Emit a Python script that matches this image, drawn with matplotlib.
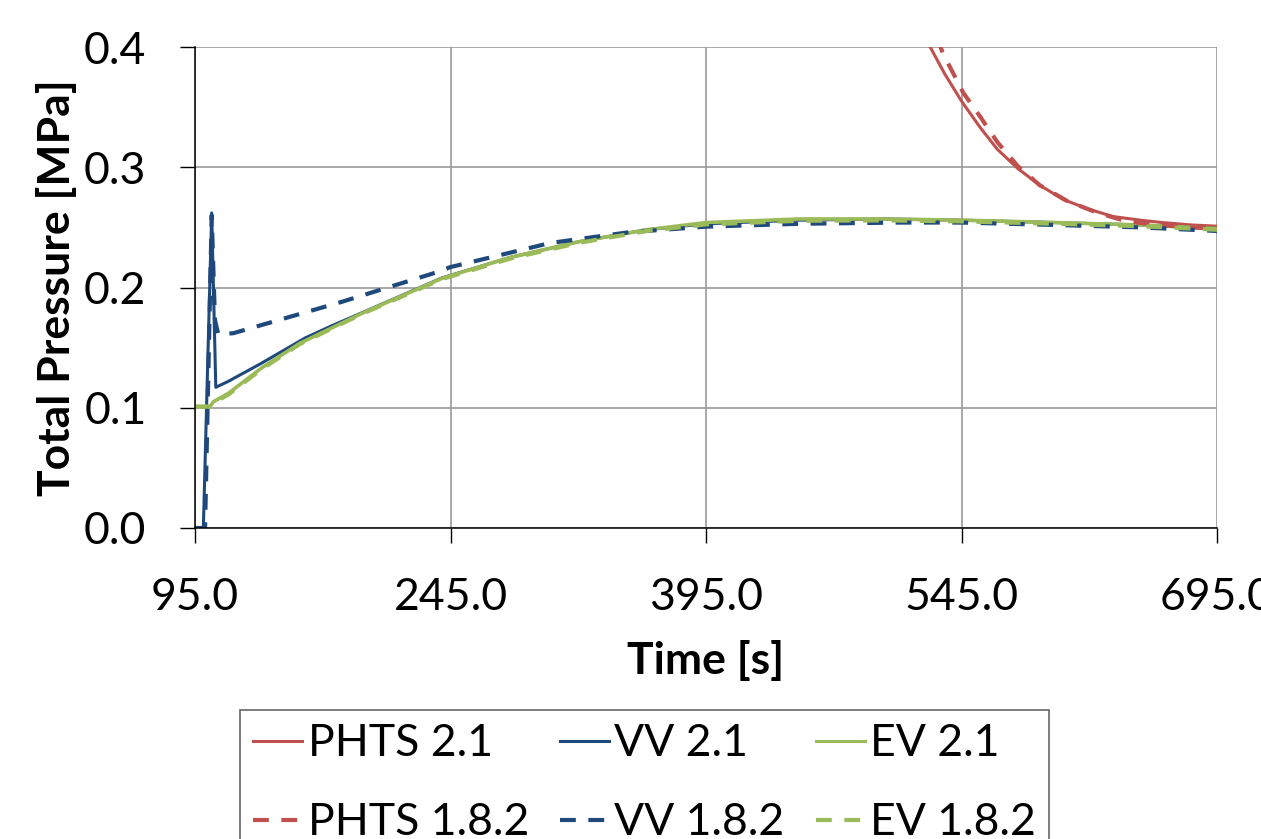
import matplotlib
matplotlib.use("Agg")
import matplotlib.pyplot as plt
from matplotlib.lines import Line2D

plt.rcParams['font.family'] = ['Lato', 'DejaVu Sans']

# time [s] and total pressure [MPa]
phts_21_t = [515, 526.6, 535, 545, 556, 566, 578, 591, 605, 620, 634, 650, 663, 680, 695]
phts_21_p = [0.432, 0.400, 0.378, 0.355, 0.333, 0.315, 0.299, 0.285, 0.273, 0.265, 0.259, 0.256, 0.254, 0.252, 0.251]

phts_182_t = [525, 534, 546, 556, 566, 578, 591, 607, 625, 642, 660, 680, 695]
phts_182_p = [0.430, 0.395, 0.362, 0.342, 0.321, 0.301, 0.285, 0.272, 0.262, 0.255, 0.252, 0.250, 0.249]

vv_21_t = [95, 99.9, 104.8, 107.2, 114.6, 134, 159.6, 175, 193, 240, 280, 320, 360, 395, 450, 500, 545, 600, 650, 695]
vv_21_p = [0.0, 0.0, 0.262, 0.117, 0.122, 0.137, 0.158, 0.168, 0.179, 0.208, 0.225, 0.238, 0.248, 0.253, 0.256, 0.257, 0.256, 0.254, 0.252, 0.249]

vv_182_t = [95, 100.9, 104.8, 106.7, 108.7, 117.5, 181, 237.7, 245, 303.5, 350, 395, 450, 509, 545, 600, 650, 695]
vv_182_p = [0.0, 0.0, 0.260, 0.173, 0.161, 0.162, 0.188, 0.213, 0.217, 0.237, 0.246, 0.2506, 0.253, 0.254, 0.254, 0.252, 0.250, 0.247]

ev_21_t = [95, 103.8, 105.8, 114.6, 134, 156.6, 193, 240, 280, 320, 360, 395, 450, 500, 545, 600, 650, 695]
ev_21_p = [0.101, 0.101, 0.105, 0.112, 0.133, 0.1536, 0.1785, 0.2076, 0.225, 0.238, 0.248, 0.254, 0.257, 0.257, 0.256, 0.254, 0.252, 0.249]

ev_182_t = [95, 103.8, 105.8, 114.6, 134, 156.6, 193, 240, 280, 320, 360, 395, 450, 500, 545, 600, 650, 695]
ev_182_p = [0.101, 0.101, 0.104, 0.111, 0.132, 0.1530, 0.178, 0.207, 0.224, 0.237, 0.247, 0.2525, 0.2555, 0.2558, 0.255, 0.253, 0.251, 0.248]

x_ticks = [95, 245, 395, 545, 695]
y_ticks = [0.0, 0.1, 0.2, 0.3, 0.4]

red = '#C0504D'
blue = '#1F497D'
green = '#9BBB59'
dash = (3.8, 3)

fig = plt.figure(figsize=(12.61, 8.39), dpi=100)
ax = fig.add_axes([195 / 1261, 1 - 528 / 839, 1022 / 1261, 481 / 839])

ax.plot(phts_21_t, phts_21_p, color=red, lw=2.2)
ax.plot(vv_21_t, vv_21_p, color=blue, lw=2.2)
ax.plot(ev_21_t, ev_21_p, color=green, lw=2.6)
ax.plot(phts_182_t, phts_182_p, color=red, lw=3, dashes=dash)
ax.plot(vv_182_t, vv_182_p, color=blue, lw=3, dashes=dash)
ax.plot(ev_182_t, ev_182_p, color=green, lw=3, dashes=dash)

ax.set_xlim(95, 695)
ax.set_ylim(0, 0.4)
ax.set_xticks(x_ticks)
ax.set_yticks(y_ticks)
ax.set_xticklabels(['%.1f' % v for v in x_ticks])
ax.set_yticklabels(['%.1f' % v for v in y_ticks])
ax.tick_params(axis='both', direction='out', length=11, width=1, labelsize=32, colors='black')
ax.tick_params(axis='y', pad=24)
ax.tick_params(axis='x', pad=24)

ax.grid(True, color='#999999', lw=1.2)
ax.set_axisbelow(True)
for s in ['top', 'right']:
    ax.spines[s].set_visible(False)
for s in ['left', 'bottom']:
    ax.spines[s].set_color('black')
    ax.spines[s].set_linewidth(1.1)

ax.set_xlabel('Time [s]', fontsize=32, fontweight='bold')
ax.set_ylabel('Total Pressure [MPa]', fontsize=32, fontweight='bold')
ax.xaxis.set_label_coords(0.5, -0.232)
ax.yaxis.set_label_coords(-0.115, 0.5)

# legend, filled column by column -> rows: 2.1 on top, 1.8.2 below
handles = [
    Line2D([], [], color=red, lw=2.2), Line2D([], [], color=red, lw=3, dashes=dash),
    Line2D([], [], color=blue, lw=2.2), Line2D([], [], color=blue, lw=3, dashes=dash),
    Line2D([], [], color=green, lw=2.2), Line2D([], [], color=green, lw=3, dashes=dash),
]
labels = ['PHTS 2.1', 'PHTS 1.8.2', 'VV 2.1', 'VV 1.8.2', 'EV 2.1', 'EV 1.8.2']
leg = fig.legend(handles, labels, ncol=3, loc='upper left',
                 bbox_to_anchor=(240 / 1261, 1 - 710 / 839), borderaxespad=0,
                 fontsize=32, frameon=True, fancybox=False, handlelength=1.1,
                 handletextpad=0.12, columnspacing=0.7, labelspacing=0.85,
                 borderpad=0.3)
leg.get_frame().set_edgecolor('#404040')
leg.get_frame().set_linewidth(1.2)

fig.savefig('out.png', dpi=100)
